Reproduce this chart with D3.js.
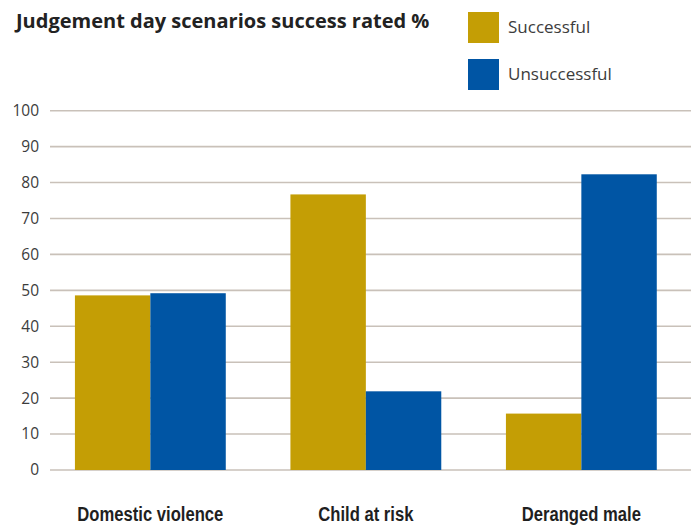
<!DOCTYPE html>
<html><head><meta charset="utf-8">
<script src="https://cdn.jsdelivr.net/npm/d3@7"></script>
<style>body{margin:0;background:#fff;}svg{display:block;}</style>
</head><body><svg id="c" width="693" height="526"></svg>
<script>
const categories = ["Domestic violence", "Child at risk", "Deranged male"];
const seriesNames = ["Successful", "Unsuccessful"];
const successful = [48.6, 76.7, 15.7];
const unsuccessful = [49.2, 21.9, 82.3];
const yTicks = [0, 10, 20, 30, 40, 50, 60, 70, 80, 90, 100];
const colors = ["#c49e05", "#0055a4"];
const titleText = "Judgement day scenarios success rated %";

const svg = d3.select("#c");
const x = d3.scaleBand().domain(categories).range([42.6, 689.1]).paddingInner(0.3).paddingOuter(0.15);
const xs = d3.scaleBand().domain(seriesNames).range([0, x.bandwidth()]);
const y = d3.scaleLinear().domain([0, 100]).range([470, 110.7]);

// gridlines
svg.append("g").selectAll("line").data(yTicks).join("line")
  .attr("x1", 50).attr("x2", 691)
  .attr("y1", d => y(d)).attr("y2", d => y(d))
  .attr("stroke", "#c9c1b9").attr("stroke-width", 1.6);

// y tick labels
svg.append("g").selectAll("text").data(yTicks).join("text")
  .attr("x", 39).attr("y", d => y(d)).attr("dy", "0.35em")
  .attr("text-anchor", "end")
  .attr("font-family", "'Open Sans', 'Noto Sans', sans-serif")
  .attr("font-size", 15.5).attr("fill", "#3c3c3c")
  .text(d => d);

// bars
const rows = categories.map((c, i) => ({cat: c, vals: [successful[i], unsuccessful[i]]}));
const g = svg.append("g").selectAll("g").data(rows).join("g")
  .attr("transform", d => `translate(${x(d.cat)},0)`);
g.selectAll("rect").data(d => d.vals.map((v, j) => ({s: seriesNames[j], v, j}))).join("rect")
  .attr("x", d => xs(d.s)).attr("width", xs.bandwidth())
  .attr("y", d => y(d.v)).attr("height", d => y(0) - y(d.v))
  .attr("fill", d => colors[d.j]);

// x labels (condensed look)
const xl = svg.append("g").selectAll("text").data(categories).join("text")
  .attr("x", d => x(d) + x.bandwidth() / 2).attr("y", 521)
  .attr("text-anchor", "middle")
  .attr("font-family", "'Liberation Sans', Arial, sans-serif")
  .attr("font-weight", "bold")
  .attr("font-size", 20).attr("fill", "#1f1f1f")
  .text(d => d);
const w0 = xl.node().getComputedTextLength();
const k = 146 / w0;
xl.each(function() {
  const w = this.getComputedTextLength();
  d3.select(this).attr("textLength", w * k).attr("lengthAdjust", "spacingAndGlyphs");
});

// title
svg.append("text").attr("x", 16).attr("y", 28)
  .attr("font-family", "'Open Sans', 'Noto Sans', sans-serif")
  .attr("font-weight", "bold").attr("font-size", 20).attr("fill", "#222")
  .text(titleText);

// legend
const leg = svg.append("g").selectAll("g").data(seriesNames).join("g")
  .attr("transform", (d, i) => `translate(468,${12 + i * 47})`);
leg.append("rect").attr("width", 31).attr("height", 31).attr("fill", (d, i) => colors[i]);
leg.append("text").attr("x", 40).attr("y", 21)
  .attr("font-family", "'Open Sans', 'Noto Sans', sans-serif")
  .attr("font-size", 17).attr("fill", "#3c3c3c")
  .text(d => d);
</script></body></html>
